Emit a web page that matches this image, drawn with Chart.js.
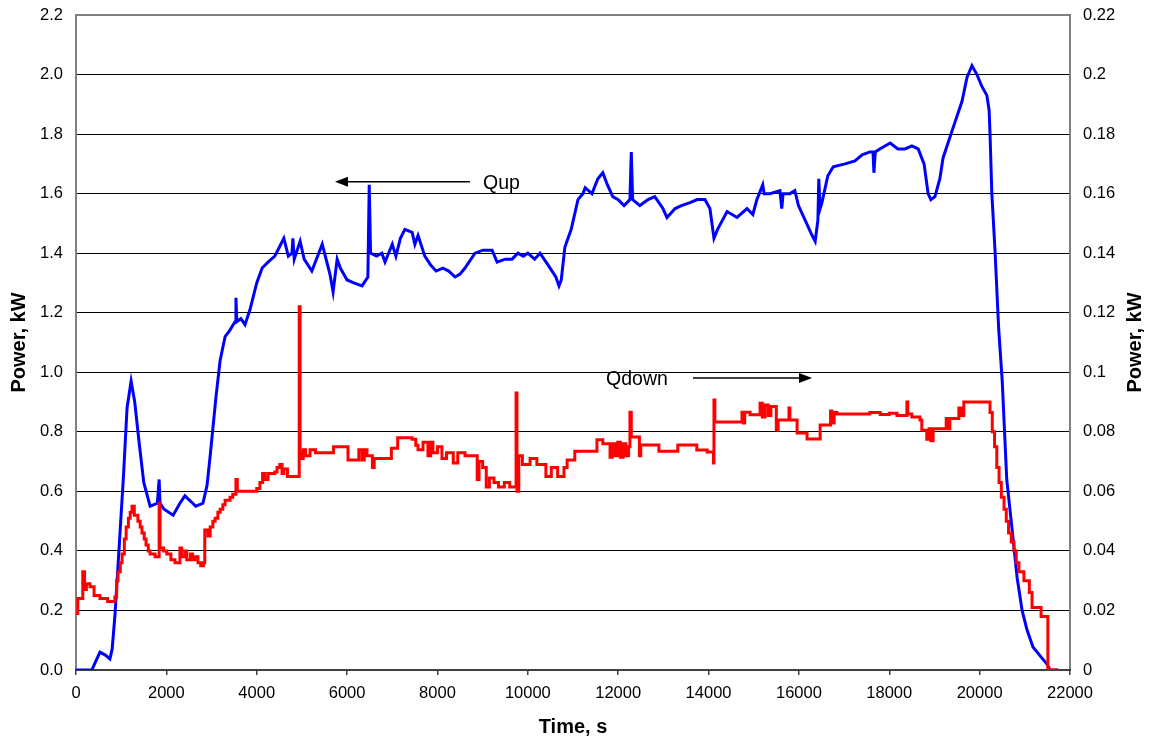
<!DOCTYPE html>
<html>
<head>
<meta charset="utf-8">
<script src="https://cdn.jsdelivr.net/npm/chart.js@4/dist/chart.umd.min.js"></script>
<style>
html,body{margin:0;padding:0;background:#fff;}
canvas{display:block;}
</style>
</head>
<body>
<canvas id="c" width="1150" height="740"></canvas>
<script>
// ---- Data ----
const qupTime = [0,350,530,650,750,800,863,950,1050,1130,1220,1300,1400,1500,1640,1800,1840,1860,1950,2150,2300,2410,2550,2650,2810,2900,2970,3100,3190,3300,3400,3520,3540,3560,3650,3740,3850,4000,4120,4250,4400,4500,4600,4700,4780,4800,4830,4960,5050,5220,5450,5620,5690,5780,5850,6000,6150,6330,6460,6490,6520,6650,6770,6840,7000,7080,7180,7280,7440,7500,7570,7720,7850,7970,8120,8250,8390,8500,8610,8830,9010,9210,9320,9500,9650,9780,9900,10000,10150,10270,10450,10620,10690,10740,10820,10960,11110,11220,11270,11420,11550,11660,11760,11880,12000,12130,12260,12290,12320,12480,12660,12810,12990,13080,13260,13400,13590,13750,13920,14030,14120,14200,14410,14630,14850,14980,15070,15200,15230,15360,15580,15620,15650,15800,15910,15990,16140,16290,16360,16420,16440,16470,16510,16640,16760,17020,17240,17400,17570,17640,17660,17690,17790,18020,18190,18350,18500,18640,18770,18860,18920,19010,19120,19190,19410,19610,19720,19830,19940,20050,20160,20210,20230,20270,20340,20420,20500,20600,20720,20830,20940,21050,21180,21380,21490,21560,21740];
const qupPower = [0,0,0.06,0.05,0.037,0.07,0.185,0.40,0.65,0.88,0.97,0.90,0.76,0.63,0.55,0.56,0.64,0.56,0.54,0.52,0.56,0.585,0.565,0.55,0.56,0.62,0.72,0.92,1.04,1.12,1.14,1.17,1.25,1.17,1.18,1.16,1.21,1.30,1.35,1.37,1.39,1.42,1.45,1.39,1.40,1.45,1.38,1.44,1.38,1.34,1.43,1.33,1.27,1.38,1.35,1.31,1.30,1.29,1.32,1.63,1.40,1.39,1.40,1.37,1.43,1.39,1.45,1.48,1.47,1.43,1.46,1.39,1.36,1.34,1.35,1.34,1.32,1.33,1.35,1.40,1.41,1.41,1.37,1.38,1.38,1.40,1.39,1.40,1.38,1.40,1.36,1.32,1.29,1.31,1.42,1.48,1.58,1.60,1.62,1.60,1.65,1.67,1.63,1.59,1.58,1.56,1.58,1.74,1.58,1.56,1.58,1.59,1.55,1.52,1.55,1.56,1.57,1.58,1.58,1.55,1.45,1.48,1.54,1.52,1.55,1.53,1.58,1.63,1.60,1.60,1.61,1.55,1.60,1.60,1.61,1.56,1.51,1.46,1.44,1.51,1.65,1.55,1.57,1.66,1.69,1.70,1.71,1.73,1.74,1.74,1.67,1.74,1.75,1.77,1.75,1.75,1.76,1.75,1.70,1.60,1.58,1.59,1.65,1.72,1.82,1.91,1.99,2.03,2.00,1.96,1.93,1.88,1.80,1.60,1.41,1.15,0.97,0.64,0.47,0.31,0.20,0.134,0.077,0.04,0.02,0,0];

// Qdown: each value holds from its time until the next time (stepped record)
const qdownTime = [0,40,150,190,230,310,400,530,700,860,900,930,980,1020,1070,1110,1160,1200,1240,1290,1370,1420,1460,1510,1550,1600,1640,1750,1840,1860,1940,2010,2100,2190,2300,2340,2410,2450,2530,2580,2630,2700,2760,2820,2850,2920,2970,3030,3080,3140,3190,3250,3300,3410,3470,3540,3570,4000,4070,4130,4180,4250,4400,4450,4510,4560,4600,4680,4940,4960,5000,5030,5080,5180,5300,5700,6020,6260,6330,6380,6440,6560,6600,6980,7120,7440,7520,7570,7680,7790,7850,7900,8000,8100,8200,8350,8450,8610,8880,8920,9000,9080,9150,9250,9350,9480,9600,9740,9760,9800,9880,10050,10200,10400,10520,10660,10800,10870,11040,11530,11660,11820,11870,11930,11990,12050,12110,12170,12230,12260,12290,12470,12500,12900,13320,13740,13970,14110,14120,14140,14740,14770,14800,14920,15140,15190,15250,15320,15380,15500,15540,15780,15800,15960,16180,16470,16700,16730,16780,16840,17570,17800,18000,18170,18390,18410,18500,18680,18720,18830,18880,18920,18970,19260,19300,19340,19540,19600,19650,20230,20280,20330,20380,20430,20480,20540,20590,20640,20700,20760,20810,20870,20980,21100,21160,21360,21510,21720];
const qdownPower = [0.019,0.024,0.033,0.027,0.029,0.028,0.025,0.024,0.023,0.0245,0.030,0.033,0.036,0.039,0.044,0.048,0.051,0.053,0.055,0.052,0.050,0.048,0.046,0.044,0.042,0.040,0.039,0.038,0.056,0.041,0.040,0.039,0.037,0.036,0.041,0.038,0.040,0.037,0.039,0.037,0.038,0.036,0.035,0.036,0.047,0.045,0.048,0.050,0.051,0.053,0.054,0.0555,0.057,0.058,0.059,0.064,0.060,0.061,0.063,0.066,0.064,0.066,0.0665,0.068,0.069,0.066,0.0675,0.065,0.122,0.073,0.071,0.074,0.072,0.074,0.073,0.075,0.0705,0.074,0.0705,0.074,0.072,0.068,0.071,0.0745,0.078,0.0775,0.0755,0.074,0.0765,0.072,0.0765,0.073,0.075,0.071,0.073,0.0695,0.073,0.072,0.064,0.070,0.068,0.0615,0.0645,0.063,0.0615,0.063,0.0615,0.093,0.060,0.072,0.069,0.071,0.069,0.065,0.068,0.065,0.068,0.0705,0.0735,0.0773,0.076,0.0715,0.076,0.072,0.0765,0.0715,0.076,0.072,0.075,0.0866,0.0783,0.072,0.0756,0.0735,0.0756,0.0739,0.0732,0.0695,0.0907,0.0833,0.0866,0.083,0.0866,0.0857,0.0896,0.085,0.089,0.0855,0.0885,0.0806,0.084,0.088,0.084,0.0796,0.0776,0.0823,0.087,0.083,0.0865,0.086,0.0865,0.0858,0.0862,0.0855,0.090,0.086,0.085,0.084,0.0805,0.0775,0.081,0.077,0.081,0.0845,0.081,0.0845,0.088,0.0855,0.090,0.0865,0.080,0.075,0.068,0.063,0.058,0.054,0.050,0.046,0.043,0.040,0.036,0.033,0.030,0.026,0.021,0.018,0,0];

const xTicks = [0,2000,4000,6000,8000,10000,12000,14000,16000,18000,20000,22000];
const leftTicks = [0,0.2,0.4,0.6,0.8,1.0,1.2,1.4,1.6,1.8,2.0,2.2];
const rightTicks = [0,0.02,0.04,0.06,0.08,0.1,0.12,0.14,0.16,0.18,0.2,0.22];

// annotations: label, text position (time, left-axis value), arrow from/to (time), arrow level (left-axis value)
const annLabels = ['Qup','Qdown'];
const annTextTime = [9008, 11731];
const annTextValue = [1.632, 0.976];
const annArrowFrom = [8720, 13656];
const annArrowTo = [5732, 16290];
const annArrowValue = [1.640, 0.981];

const FONT = "'Liberation Sans', Arial, sans-serif";

const toXY = (xs, ys) => xs.map((x, i) => ({x: x, y: ys[i]}));

const annotPlugin = {
  id: 'annot',
  beforeDatasetsDraw(chart) {
    const ctx = chart.ctx, a = chart.chartArea;
    ctx.save();
    ctx.strokeStyle = '#808080';
    ctx.lineWidth = 2;
    ctx.beginPath();
    ctx.moveTo(a.left, a.bottom);
    ctx.lineTo(a.left, a.top);
    ctx.lineTo(a.right, a.top);
    ctx.lineTo(a.right, a.bottom);
    ctx.stroke();
    ctx.strokeStyle = '#404040';
    ctx.beginPath();
    ctx.moveTo(a.left - 1, a.bottom);
    ctx.lineTo(a.right + 1, a.bottom);
    ctx.stroke();
    ctx.restore();
  },
  afterDatasetsDraw(chart) {
    const ctx = chart.ctx;
    const xs = chart.scales.x, ys = chart.scales.y;
    ctx.save();
    ctx.fillStyle = '#000';
    ctx.strokeStyle = '#000';
    ctx.lineWidth = 1.5;
    ctx.font = '19.5px ' + FONT;
    ctx.textBaseline = 'middle';
    ctx.textAlign = 'left';
    for (let i = 0; i < annLabels.length; i++) {
      ctx.fillText(annLabels[i], xs.getPixelForValue(annTextTime[i]), ys.getPixelForValue(annTextValue[i]));
      const x1 = xs.getPixelForValue(annArrowFrom[i]);
      const x2 = xs.getPixelForValue(annArrowTo[i]);
      const y = ys.getPixelForValue(annArrowValue[i]);
      const dir = x2 > x1 ? 1 : -1;
      ctx.beginPath();
      ctx.moveTo(x1, y);
      ctx.lineTo(x2 - dir * 10, y);
      ctx.stroke();
      ctx.beginPath();
      ctx.moveTo(x2, y);
      ctx.lineTo(x2 - dir * 13, y - 5);
      ctx.lineTo(x2 - dir * 13, y + 5);
      ctx.closePath();
      ctx.fill();
    }
    // right axis title (reads bottom to top)
    const a = chart.chartArea;
    ctx.font = 'bold 20px ' + FONT;
    ctx.textAlign = 'center';
    ctx.textBaseline = 'middle';
    ctx.translate(1135.5, (a.top + a.bottom) / 2);
    ctx.rotate(-Math.PI / 2);
    ctx.fillText('Power, kW', 0, 0);
    ctx.restore();
  }
};

new Chart(document.getElementById('c'), {
  type: 'line',
  data: {
    datasets: [
      {
        label: 'Qdown',
        data: toXY(qdownTime, qdownPower),
        yAxisID: 'y1',
        borderColor: '#ff0000',
        borderWidth: 3,
        pointRadius: 0,
        stepped: 'before',
        order: 0
      },
      {
        label: 'Qup',
        data: toXY(qupTime, qupPower),
        yAxisID: 'y',
        borderColor: '#0000ff',
        borderWidth: 3,
        pointRadius: 0,
        tension: 0,
        order: 1
      }
    ]
  },
  options: {
    responsive: false,
    animation: false,
    devicePixelRatio: 1,
    layout: { padding: { top: 15, left: 0, right: 0, bottom: 0 } },
    plugins: { legend: { display: false }, tooltip: { enabled: false } },
    scales: {
      x: {
        type: 'linear',
        min: 0, max: 22000,
        afterBuildTicks: s => { s.ticks = xTicks.map(v => ({value: v})); },
        afterFit: s => { s.height = 70; s.paddingLeft = 0; s.paddingRight = 0; },
        ticks: {
          color: '#000',
          font: { family: FONT, size: 16.5 },
          padding: 9,
          maxRotation: 0,
          autoSkip: false,
          callback: v => String(v)
        },
        grid: { drawOnChartArea: false, drawTicks: true, tickLength: 5, color: '#404040', lineWidth: 1.5 },
        border: { display: false },
        title: { display: true, text: 'Time, s', color: '#000', font: { family: FONT, size: 20, weight: 'bold' }, padding: { top: 0, bottom: 1 } }
      },
      y: {
        type: 'linear',
        position: 'left',
        min: 0, max: 2.2,
        afterBuildTicks: s => { s.ticks = leftTicks.map(v => ({value: v})); },
        afterFit: s => { s.width = 76; s.paddingTop = 0; s.paddingBottom = 0; },
        ticks: {
          color: '#000',
          font: { family: FONT, size: 16.5 },
          padding: 13,
          autoSkip: false,
          callback: v => Number(v).toFixed(1)
        },
        grid: {
          drawTicks: false,
          lineWidth: 1,
          color: c => (c.tick && (c.tick.value === 0 || c.tick.value === 2.2)) ? 'rgba(0,0,0,0)' : '#000'
        },
        border: { display: false },
        title: { display: true, text: 'Power, kW', color: '#000', font: { family: FONT, size: 20, weight: 'bold' }, padding: { top: 7, bottom: 0 } }
      },
      y1: {
        type: 'linear',
        position: 'right',
        min: 0, max: 0.22,
        afterBuildTicks: s => { s.ticks = rightTicks.map(v => ({value: v})); },
        afterFit: s => { s.width = 80; s.paddingTop = 0; s.paddingBottom = 0; },
        ticks: {
          color: '#000',
          font: { family: FONT, size: 16.5 },
          padding: 13,
          autoSkip: false,
          callback: v => String(Number(Number(v).toFixed(2)))
        },
        grid: { drawOnChartArea: false, drawTicks: false },
        border: { display: false },
        title: { display: false }
      }
    }
  },
  plugins: [annotPlugin]
});
</script>
</body>
</html>
